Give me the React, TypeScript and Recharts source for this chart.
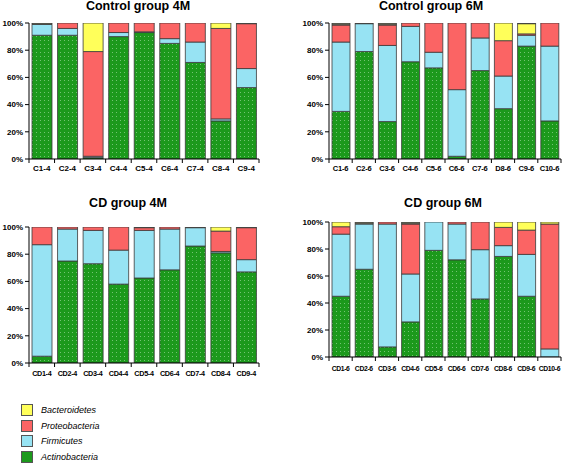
import { BarChart, Bar, XAxis, YAxis } from "recharts";

// Control group 4M
const c4Names = ["C1-4", "C2-4", "C3-4", "C4-4", "C5-4", "C6-4", "C7-4", "C8-4", "C9-4"];
const c4Actino = [91, 91, 1, 90, 93, 85, 71, 28, 52.5];
const c4Firmi = [8, 5, 1, 3, 0.5, 3.5, 15, 1.5, 14];
const c4Proteo = [0, 4, 77, 7, 6.5, 11.5, 14, 66.5, 33];
const c4Bactero = [0, 0, 21, 0, 0, 0, 0, 4, 0];
const c4Other = [1, 0, 0, 0, 0, 0, 0, 0, 0.5];

// Control group 6M
const c6Names = ["C1-6", "C2-6", "C3-6", "C4-6", "C5-6", "C6-6", "C7-6", "D8-6", "C9-6", "C10-6"];
const c6Actino = [35, 79, 27.5, 71.5, 67, 2, 65, 37, 83, 28];
const c6Firmi = [51, 20.5, 56, 26, 11.5, 49, 24, 24, 8, 55];
const c6Proteo = [12.5, 0, 15, 2.5, 21.5, 49, 11, 26, 1, 17];
const c6Bactero = [0, 0, 0, 0, 0, 0, 0, 13, 7.5, 0];
const c6Other = [1.5, 0.5, 1.5, 0, 0, 0, 0, 0, 0.5, 0];

// CD group 4M
const d4Names = ["CD1-4", "CD2-4", "CD3-4", "CD4-4", "CD5-4", "CD6-4", "CD7-4", "CD8-4", "CD9-4"];
const d4Actino = [5, 75, 73, 58, 62.5, 68.5, 86, 81, 67];
const d4Firmi = [82, 23.5, 24.5, 25, 35, 30, 13.5, 1, 9];
const d4Proteo = [13, 1.5, 2.5, 17, 2, 1.5, 0, 15, 23.5];
const d4Bactero = [0, 0, 0, 0, 0, 0, 0, 3, 0];
const d4Other = [0, 0, 0, 0, 0.5, 0, 0.5, 0, 0.5];

// CD group 6M
const d6Names = ["CD1-6", "CD2-6", "CD3-6", "CD4-6", "CD5-6", "CD6-6", "CD7-6", "CD8-6", "CD9-6", "CD10-6"];
const d6Actino = [45, 65, 7.5, 26, 79, 72, 43, 74.5, 45, 0];
const d6Firmi = [46, 33.5, 91, 35.5, 21, 26.5, 36.5, 8, 31, 6];
const d6Proteo = [5.5, 0, 1.5, 37, 0, 1.5, 20.5, 13.5, 18, 92.5];
const d6Bactero = [3.5, 0, 0, 0, 0, 0, 0, 4, 6, 1.5];
const d6Other = [0, 1.5, 0, 1.5, 0, 0, 0, 0, 0, 0];

const legendItems = ["Bacteroidetes", "Proteobacteria", "Firmicutes", "Actinobacteria"];

const GREEN = "#1c991c";
const CYAN = "#97e3f3";
const RED = "#fb6464";
const YELLOW = "#ffff5a";
const OTHER = "#6d6d5a";
const legendColors = [YELLOW, RED, CYAN, GREEN];

const FONT = "'Liberation Sans', Arial, sans-serif";

interface PanelProps {
  id: string;
  x: number;
  y: number;
  w: number;
  h: number;
  title: string;
  titleX: number;
  titleTop: number;
  names: string[];
  actino: number[];
  firmi: number[];
  proteo: number[];
  bactero: number[];
  other: number[];
  barSize: number;
  labelDy: number;
  labelSize: number;
  labelSpacing: number;
}

const TOP = 4;
const LEFT = 34;

function Panel(p: PanelProps) {
  const data = p.names.map((name, i) => ({
    name,
    actino: p.actino[i],
    firmi: p.firmi[i],
    proteo: p.proteo[i],
    bactero: p.bactero[i],
    other: p.other[i],
  }));
  const band = p.w / p.names.length;
  const axisY = TOP + p.h;

  const XTick = (props: any) => {
    const { x, payload, index } = props;
    return (
      <g>
        <line x1={x - band / 2} x2={x - band / 2} y1={axisY} y2={axisY + 4} stroke="#000" />
        {index === p.names.length - 1 && (
          <line x1={x + band / 2} x2={x + band / 2} y1={axisY} y2={axisY + 4} stroke="#000" />
        )}
        <text
          x={x}
          y={axisY + p.labelDy}
          textAnchor="middle"
          fontSize={p.labelSize}
          fontWeight="bold"
          fontFamily={FONT}
          letterSpacing={p.labelSpacing}
          fill="#000"
        >
          {payload.value}
        </text>
      </g>
    );
  };

  const segs = [
    { key: "actino", fill: `url(#dots-${p.id})` },
    { key: "firmi", fill: CYAN },
    { key: "proteo", fill: RED },
    { key: "bactero", fill: YELLOW },
    { key: "other", fill: OTHER },
  ];

  return (
    <>
      <div
        style={{
          position: "absolute",
          left: p.titleX - 100,
          width: 200,
          top: p.titleTop,
          textAlign: "center",
          fontFamily: FONT,
          fontWeight: "bold",
          fontSize: 12.5,
          lineHeight: "13px",
          whiteSpace: "nowrap",
        }}
      >
        {p.title}
      </div>
      <div style={{ position: "absolute", left: p.x - LEFT, top: p.y - TOP }}>
        <BarChart
          width={p.w + LEFT + 8}
          height={p.h + TOP + 22}
          data={data}
          margin={{ top: TOP, right: 8, left: 0, bottom: 0 }}
          barSize={p.barSize}
        >
          <defs>
            <pattern id={`dots-${p.id}`} width="4" height="4" patternUnits="userSpaceOnUse">
              <rect width="4" height="4" fill={GREEN} />
              <rect x="1" y="1" width="1" height="1" fill="#72c472" />
            </pattern>
          </defs>
          <YAxis
            width={LEFT}
            type="number"
            domain={[0, 100]}
            allowDataOverflow
            ticks={[0, 20, 40, 60, 80, 100]}
            tickFormatter={(v: number) => `${v}%`}
            tickSize={4}
            tickMargin={2}
            stroke="#000"
            tick={{ fontSize: 8, fontWeight: "bold", fontFamily: FONT, fill: "#000" }}
          />
          <XAxis
            dataKey="name"
            height={22}
            stroke="#000"
            tickLine={false}
            interval={0}
            tick={<XTick />}
          />
          {segs.map((s) => (
            <Bar
              key={s.key}
              dataKey={s.key}
              stackId="a"
              fill={s.fill}
              stroke="#3a3a3a"
              strokeWidth={0.8}
              isAnimationActive={false}
            />
          ))}
        </BarChart>
      </div>
    </>
  );
}

export default function App() {
  return (
    <div
      style={{
        position: "absolute",
        left: 0,
        top: 0,
        width: 567,
        height: 464,
        background: "#fff",
        overflow: "hidden",
      }}
    >
      <Panel
        id="c4"
        x={29}
        y={23}
        w={230}
        h={136}
        title="Control group 4M"
        titleX={138}
        titleTop={0}
        names={c4Names}
        actino={c4Actino}
        firmi={c4Firmi}
        proteo={c4Proteo}
        bactero={c4Bactero}
        other={c4Other}
        barSize={20}
        labelDy={12}
        labelSize={8}
        labelSpacing={0}
      />
      <Panel
        id="c6"
        x={329}
        y={23}
        w={232}
        h={136}
        title="Control group 6M"
        titleX={431}
        titleTop={0}
        names={c6Names}
        actino={c6Actino}
        firmi={c6Firmi}
        proteo={c6Proteo}
        bactero={c6Bactero}
        other={c6Other}
        barSize={18}
        labelDy={12}
        labelSize={7.5}
        labelSpacing={-0.2}
      />
      <Panel
        id="d4"
        x={29}
        y={227}
        w={230}
        h={136}
        title="CD group 4M"
        titleX={128}
        titleTop={197}
        names={d4Names}
        actino={d4Actino}
        firmi={d4Firmi}
        proteo={d4Proteo}
        bactero={d4Bactero}
        other={d4Other}
        barSize={20}
        labelDy={13}
        labelSize={7.2}
        labelSpacing={-0.3}
      />
      <Panel
        id="d6"
        x={329}
        y={222}
        w={232}
        h={135}
        title="CD group 6M"
        titleX={443}
        titleTop={197}
        names={d6Names}
        actino={d6Actino}
        firmi={d6Firmi}
        proteo={d6Proteo}
        bactero={d6Bactero}
        other={d6Other}
        barSize={18}
        labelDy={14}
        labelSize={6.8}
        labelSpacing={-0.35}
      />
      {legendItems.map((name, i) => (
        <div
          key={name}
          style={{
            position: "absolute",
            left: 21,
            top: 404 + i * 15.5,
            height: 12,
            display: "flex",
            alignItems: "center",
          }}
        >
          <div
            style={{
              width: 10,
              height: 10,
              background: legendColors[i],
              border: "1px solid #555",
            }}
          />
          <span
            style={{
              marginLeft: 8,
              fontFamily: FONT,
              fontStyle: "italic",
              fontSize: 9,
              color: "#000",
            }}
          >
            {name}
          </span>
        </div>
      ))}
    </div>
  );
}
